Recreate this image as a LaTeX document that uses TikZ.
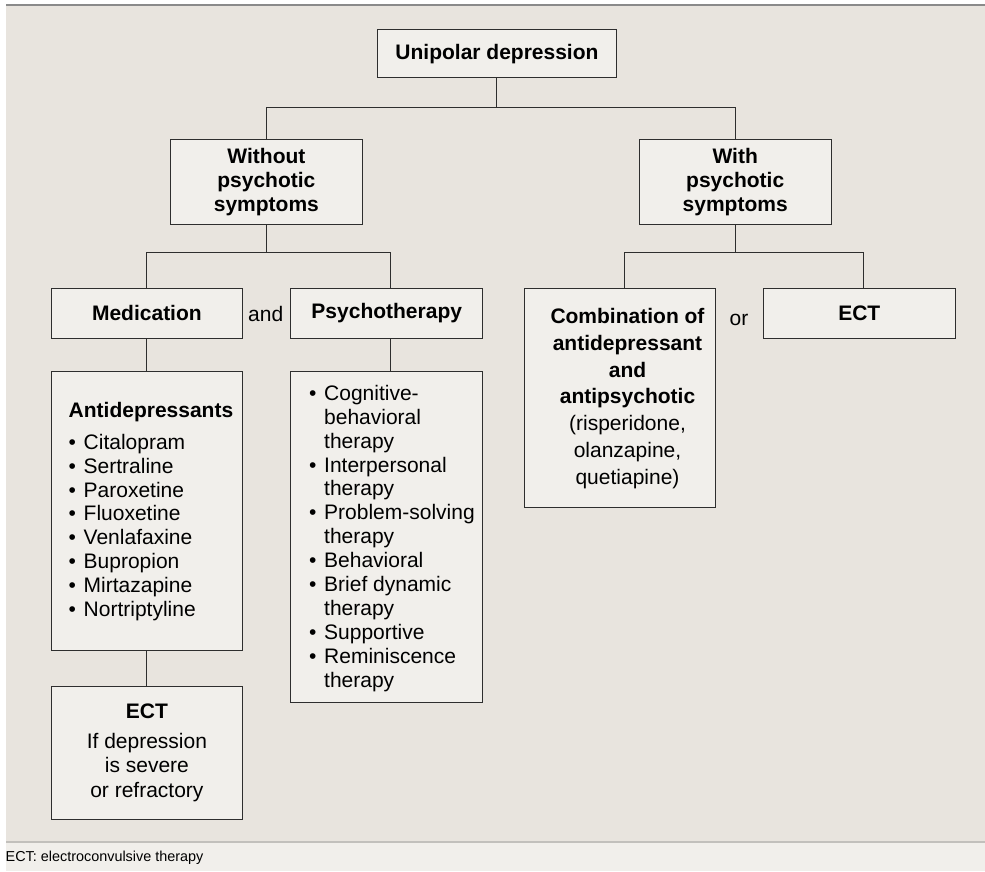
\documentclass[tikz,border=0pt]{standalone}
\usepackage{fontspec}
\setmainfont{Liberation Sans}
\definecolor{bgc}{HTML}{E8E4DE}
\definecolor{boxc}{HTML}{F1EFEB}
\definecolor{footc}{HTML}{F1EFEB}
\definecolor{linec}{HTML}{2E2E2E}
\definecolor{topline}{HTML}{8A8A8A}
\definecolor{footline}{HTML}{C2C0BC}
\newcommand{\mybul}{\makebox[15pt][l]{\textbullet}}
\newcommand{\myind}{\hspace*{15pt}}
\begin{document}
\begin{tikzpicture}[x=1pt,y=-1pt,
  box/.style={draw=linec, line width=0.9pt, fill=boxc, minimum width=191.5pt,
    inner sep=0pt, anchor=north west, align=center, text=black},
  bfont/.style={font=\fontsize{21}{24}\selectfont\bfseries},
  rfont/.style={font=\fontsize{21}{24}\selectfont},
  conn/.style={draw=linec, line width=1pt}]
\useasboundingbox (0,0) rectangle (985,871);
\fill[white] (0,0) rectangle (985,871);
\fill[bgc] (6,5) rectangle (985,842);
\fill[footc] (6,842) rectangle (985,871);
\draw[topline, line width=1.5pt] (6,5) -- (985,5);
\draw[footline, line width=1.5pt] (6,842) -- (985,842);

% boxes
\node[box, bfont, minimum width=239pt, minimum height=48pt] (uni) at (377,29.3) {Unipolar depression};
\node[box, bfont, minimum height=85.6pt] (wo) at (170.2,138.7) {Without\\psychotic\\symptoms};
\node[box, bfont, minimum height=85.6pt] (wi) at (639,138.7) {With\\psychotic\\symptoms};
\node[box, bfont, minimum height=50.6pt] (med) at (50.7,287.7) {Medication};
\node[box, bfont, minimum width=192pt, minimum height=50.6pt] (psy) at (290.3,287.7) {Psychotherapy};
\node[box, minimum width=191.8pt, minimum height=219.6pt] (comb) at (523.5,287.7) {};
\node[box, bfont, minimum width=191.7pt, minimum height=50.6pt] (ectb) at (763,287.7) {ECT};
\node[box, minimum height=279pt] (anti) at (50.7,371) {};
\node[box, minimum width=192pt, minimum height=330.7pt] (list) at (290.3,371) {};
\node[box, font=\fontsize{21}{24.3}\selectfont, minimum height=133.6pt] (ecta) at (50.7,685.7)
  {\textbf{ECT}\\[5.4pt]If depression\\is severe\\or refractory};

% texts
\node[rfont, inner sep=0pt] (andT) at (265.7,314) {and};
\node[rfont, inner sep=0pt] (orT) at (739,320) {or};
\node[font=\fontsize{21}{26.7}\selectfont, align=center, inner sep=0pt] (combT) at (627.5,398.5)
  {\textbf{Combination of}\\\textbf{antidepressant}\\\textbf{and}\\\textbf{antipsychotic}\\(risperidone,\\olanzapine,\\quetiapine)};
\node[font=\fontsize{21}{23.8}\selectfont, align=left, inner sep=0pt, anchor=west] (antiT) at (68.5,511.5)
  {\textbf{Antidepressants}\\[7.9pt]\mybul Citalopram\\\mybul Sertraline\\\mybul Paroxetine\\\mybul Fluoxetine\\\mybul Venlafaxine\\\mybul Bupropion\\\mybul Mirtazapine\\\mybul Nortriptyline};
\node[font=\fontsize{21}{23.9}\selectfont, align=left, inner sep=0pt, anchor=west] (listT) at (309,538.3)
  {\mybul Cognitive-\\\myind behavioral\\\myind therapy\\\mybul Interpersonal\\\myind therapy\\\mybul Problem-solving\\\myind therapy\\\mybul Behavioral\\\mybul Brief dynamic\\\myind therapy\\\mybul Supportive\\\mybul Reminiscence\\\myind therapy};
\node[font=\fontsize{14.4}{16}\selectfont, inner sep=0pt, anchor=west] (footT) at (5.5,857.5) {ECT: electroconvulsive therapy};

% connectors
\coordinate (bar1) at (0,107.7);
\coordinate (bar2) at (0,252.7);
\draw[conn] (uni.south) -- (uni.south |- bar1);
\draw[conn] (wo.north) -- (wo.north |- bar1) -- (wi.north |- bar1) -- (wi.north);
\draw[conn] (wo.south) -- (wo.south |- bar2);
\draw[conn] (med.north) -- (med.north |- bar2) -- ([xshift=3.4pt]psy.north |- bar2) -- ([xshift=3.4pt]psy.north);
\draw[conn] (wi.south) -- (wi.south |- bar2);
\draw[conn] ([xshift=4.3pt]comb.north) -- ([xshift=4.3pt]comb.north |- bar2) -- ([xshift=3.9pt]ectb.north |- bar2) -- ([xshift=3.9pt]ectb.north);
\draw[conn] (med.south) -- (anti.north);
\draw[conn] ([xshift=3.4pt]psy.south) -- ([xshift=3.4pt]list.north);
\draw[conn] (anti.south) -- (ecta.north);
\end{tikzpicture}
\end{document}
